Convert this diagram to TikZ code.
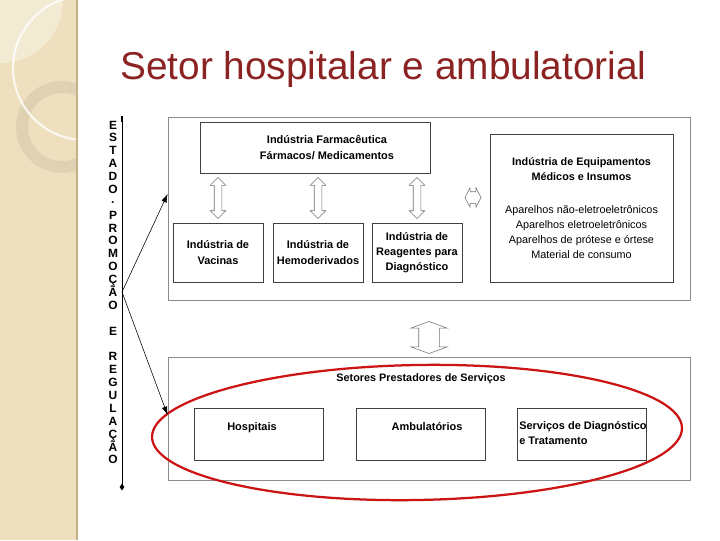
\documentclass[tikz,border=0pt]{standalone}
\usepackage{fontspec}
\setmainfont{Liberation Sans}
\usetikzlibrary{positioning,calc,shapes.arrows,shapes.geometric,arrows.meta}
\definecolor{titlered}{RGB}{139,35,35}
\definecolor{strip}{RGB}{238,224,190}
\definecolor{stripedge}{RGB}{196,176,136}
\definecolor{ringc}{RGB}{222,210,178}
\definecolor{marker}{RGB}{204,20,20}
\tikzset{sz/.style 2 args={minimum width=#1*0.025cm,minimum height=#2*0.025cm}}

\begin{document}
\begin{tikzpicture}[x=0.025cm,y=-0.025cm,
  outerbox/.style={draw=black!45,line width=0.6pt,inner sep=0},
  box/.style={draw=black!75,line width=0.5pt,fill=white,inner sep=0,align=center,
    font=\bfseries\fontsize{7.8}{10.8}\selectfont},
  lbl/.style={inner sep=0,align=center,font=\bfseries\fontsize{7.8}{10.8}\selectfont},
  vlet/.style={inner sep=0,anchor=base,font=\bfseries\fontsize{8.5}{9}\selectfont},
  hollow/.style={double arrow,draw=black!55,fill=white,inner xsep=0},
  dblv/.style={hollow,rotate=90,inner ysep=0.0875cm,
    minimum height=1.025cm,minimum width=0.375cm,double arrow head extend=0.1cm},
  pointer/.style={-{Latex[length=6pt,width=4pt]},line width=0.4pt}]
\useasboundingbox (0,0) rectangle (720,540);
\begin{scope}
  \clip (0,0) rectangle (76,540);
  \fill[strip] (0,0) rectangle (76,540);
  \fill[white,opacity=0.35] (0,0) circle (63);
  \draw[ringc,line width=8.5pt] (62,127) circle (40);
  \draw[white,opacity=0.8,line width=1.5pt] (85,68) circle (72);
\end{scope}
\draw[stripedge,line width=1.5pt] (77,0) -- (77,540);
\node[anchor=base west,inner sep=0,text=titlered,font=\fontsize{27.6}{30}\selectfont]
  (ttl) at (120,79) {Setor hospitalar e ambulatorial};

\node[outerbox,sz={522}{183}] (up) at (429,208.5) {};
\node[box,sz={230}{51}] (farma) at (315,147.5) {};
\node[lbl] (farmat) at (327,147.5) {Indústria Farmacêutica\\Fármacos/ Medicamentos};
\node[box,sz={90}{59}] (vac) at (218,252.5) {Indústria de\\Vacinas};
\node[box,sz={90}{59}] (hemo) at (318,252.5) {Indústria de\\Hemoderivados};
\node[box,sz={90}{59}] (reag) at (417,252.5) {Indústria de\\Reagentes para\\Diagnóstico};
\node[box,sz={183}{148},font=\fontsize{7.7}{10.7}\selectfont] (equip) at (581.5,208)
  {\textbf{Indústria de Equipamentos}\\\textbf{Médicos e Insumos}\\[12.8pt]
   Aparelhos não-eletroeletrônicos\\Aparelhos eletroeletrônicos\\
   Aparelhos de prótese e órtese\\Material de consumo};
\node[dblv] (a1) at ($(vac.north)!.5!(vac.north |- farma.south)$) {};
\node[dblv] (a2) at ($(hemo.north)!.5!(hemo.north |- farma.south)$) {};
\node[dblv] (a3) at ($(reag.north)!.5!(reag.north |- farma.south)$) {};
\node[hollow,inner ysep=0.1375cm,minimum height=0.4cm,minimum width=0.475cm,
  double arrow head extend=0.1cm,double arrow tip angle=125] (a4) at (473,197.5) {};

\node[outerbox,sz={522}{123}] (low) at (429,418.5) {};
\node[hollow,rotate=90,inner ysep=0.25cm,minimum height=0.8cm,minimum width=0.9cm,
  double arrow head extend=0.2cm,double arrow tip angle=140,xshift=-0.225cm]
  (a5) at ($(up.south)!.5!(low.north)$) {};
\node[lbl,font=\bfseries\fontsize{7.7}{10}\selectfont] (setores) at (421,379) {Setores Prestadores de Serviços};
\node[box,sz={129}{52}] (hosp) at (258.5,434) {};
\node[box,sz={129}{52}] (amb) at (420.5,434) {};
\node[box,sz={129}{52}] (serv) at (581.5,434) {};
\node[lbl] (hospt) at (252,428) {Hospitais};
\node[lbl] (ambt) at (427,427) {Ambulatórios};
\node[lbl,align=left,anchor=north west] (servt) at (519,421) {Serviços de Diagnóstico\\ e Tratamento};
\draw[marker,line width=1.6pt] (417,432.5) ellipse [x radius=265,y radius=67.5,rotate=1];

\coordinate (top) at (122,116);
\coordinate (bot) at (122,487);
\coordinate (src) at (122,292);
\draw[line width=0.5pt] (top) -- (bot);
\draw[line width=1.5pt] (top) -- ++(0,6);
\node[diamond,fill,inner sep=0,minimum width=0.125cm,minimum height=0.175cm] (botmark) at (bot) {};
\foreach \c [count=\i from 0] in {E,S,T,A,D,O,·,P,R,O,M,O,Ç,Ã,O,{},E,{},R,E,G,U,L,A,Ç,Ã,O}
  \node[vlet] (v\i) at (113,129+\i*12.88) {\c};
\draw[pointer] (src) -- (up.west |- 0,194);
\draw[pointer] (src) -- (low.west |- 0,415);
\end{tikzpicture}
\end{document}
